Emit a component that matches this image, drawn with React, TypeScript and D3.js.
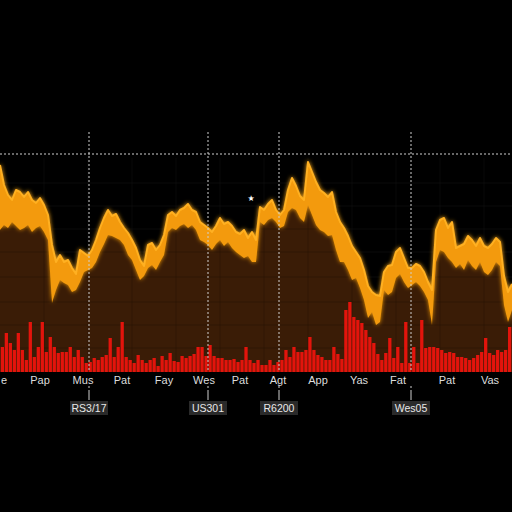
import React from "react";
import * as d3 from "d3";

// price band: upper edge (high) and lower edge (low), one point every step
const highValues = [
  207,187,177,172,182,180,175,180,172,169,
  174,167,157,127,110,117,110,112,104,98,
  122,119,116,122,132,144,154,162,156,158,
  150,144,139,132,124,112,106,127,129,122,
  127,137,157,160,156,162,164,168,162,160,
  150,147,144,140,146,154,148,150,146,140,
  138,142,134,140,132,165,162,168,172,162,
  157,162,182,194,186,176,172,210,200,190,
  182,179,175,180,160,150,144,136,126,120,
  114,102,86,80,77,76,100,106,107,120,
  124,114,104,104,108,106,100,90,82,142,
  152,154,144,150,124,126,128,136,132,126,
  134,126,124,128,134,130,96,80,88,
];
const lowValues = [
  142,147,144,150,146,142,144,147,140,144,
  146,140,132,69,82,92,89,87,80,82,
  90,100,102,104,110,120,128,137,136,134,
  132,127,117,112,102,92,96,104,107,102,
  110,117,140,144,142,146,148,144,147,142,
  132,130,127,122,128,132,126,130,124,120,
  117,114,116,110,110,150,147,152,154,150,
  144,146,160,164,162,154,150,167,157,147,
  142,140,136,137,122,110,110,102,92,94,
  84,72,54,60,47,50,82,77,80,94,
  98,90,84,87,90,86,80,72,47,110,
  122,120,114,110,104,108,102,112,106,102,
  110,100,97,102,110,106,67,50,62,
];
// volume bars
const volumeValues = [
  25,39,29,22,39,22,12,50,15,25,
  50,20,35,25,19,20,20,25,15,22,
  15,9,10,14,12,15,17,34,15,25,
  50,15,12,9,17,12,9,12,14,6,
  16,12,19,11,10,16,14,16,18,25,
  25,16,27,16,14,14,12,12,13,10,
  12,25,12,9,12,7,7,12,7,10,
  12,22,15,25,20,20,22,35,22,17,
  15,12,12,25,18,13,62,70,55,52,
  49,42,35,29,18,12,19,34,14,25,
  9,50,9,25,9,52,24,25,25,24,
  22,19,20,19,15,15,14,12,14,17,
  20,34,19,17,22,20,22,45,
];
// axis tick labels and their positions (in data index)
const tickLabels = ["e","Pap","Mus","Pat","Fay","Wes","Pat","Agt","App","Yas","Fat","Pat","Vas"];
const tickIndex = [1,10,20.75,30.5,41,51,60,69.5,79.5,89.75,99.5,111.75,122.5];
// event markers
const markerLabels = ["RS3/17","US301","R6200","Wes05"];
const markerIndex = [22.25,52,69.75,102.75];
const gridYValues = [24,47,70,95,120,143,166,189];
const gridXIndex = [11,22,33,44,55,66,77,88,99,110,121];

export default function App() {
  const W = 512, H = 512;
  const base = 372;
  const n = highValues.length;
  const x = d3.scaleLinear().domain([0, n - 1]).range([0, W]);
  const y = d3.scaleLinear().domain([0, 220]).range([base, 152]);
  const xb = d3.scaleBand<number>().domain(d3.range(volumeValues.length)).range([0, W]).padding(0.18);

  const fillArea = d3.area<number>().x((_, i) => x(i)).y0(base).y1((d) => y(d))(highValues) || "";
  const bandArea = d3.area<number>().x((_, i) => x(i)).y0((_, i) => y(lowValues[i])).y1((d) => y(d))(highValues) || "";
  const highLine = d3.line<number>().x((_, i) => x(i)).y((d) => y(d))(highValues) || "";

  return (
    <svg width={W} height={H} style={{ position: "absolute", left: 0, top: 0, background: "#000" }}>
      <defs>
        <filter id="glow" x="-10%" y="-10%" width="120%" height="120%">
          <feGaussianBlur stdDeviation="2" result="b" />
          <feMerge>
            <feMergeNode in="b" />
            <feMergeNode in="SourceGraphic" />
          </feMerge>
        </filter>
      </defs>
      <rect width={W} height={H} fill="#000" />
      {gridYValues.map((v, i) => (
        <line key={"gy" + i} x1={0} x2={W} y1={y(v)} y2={y(v)} stroke="#ffffff" strokeOpacity={0.05} />
      ))}
      {gridXIndex.map((v, i) => (
        <line key={"gx" + i} x1={x(v)} x2={x(v)} y1={158} y2={base} stroke="#ffffff" strokeOpacity={0.04} />
      ))}
      <path d={fillArea} fill="#3a1c06" />
      {gridYValues.map((v, i) => (
        <line key={"gy2" + i} x1={0} x2={W} y1={y(v)} y2={y(v)} stroke="#000" strokeOpacity={0.18} />
      ))}
      {gridXIndex.map((v, i) => (
        <line key={"gx2" + i} x1={x(v)} x2={x(v)} y1={158} y2={base} stroke="#000" strokeOpacity={0.15} />
      ))}
      <g filter="url(#glow)">
        <path d={bandArea} fill="#f39a0c" />
        <path d={highLine} fill="none" stroke="#ffb020" strokeWidth={2} strokeLinejoin="round" />
      </g>
      {volumeValues.map((v, i) => (
        <rect key={"b" + i} x={xb(i)} width={xb.bandwidth()} y={y(v)} height={base - y(v)} fill="#e3140c" />
      ))}
      <line x1={0} x2={W} y1={154} y2={154} stroke="#cfcfcf" strokeWidth={1} strokeDasharray="2,2" />
      {markerIndex.map((m, i) => (
        <line key={"m" + i} x1={x(m)} x2={x(m)} y1={132} y2={400} stroke="#cfcfcf" strokeWidth={1} strokeDasharray="2,2" />
      ))}
      <rect x={0} y={base} width={W} height={20} fill="#000" />
      {markerIndex.map((m, i) => (
        <line key={"m2" + i} x1={x(m)} x2={x(m)} y1={386} y2={401} stroke="#cfcfcf" strokeWidth={1} strokeDasharray="2,2" />
      ))}
      {tickLabels.map((t, i) => (
        <text key={"t" + i} x={x(tickIndex[i])} y={384} fill="#dddddd" fontSize={11} fontFamily="Liberation Sans, Arial, sans-serif" textAnchor="middle">{t}</text>
      ))}
      {markerLabels.map((t, i) => (
        <g key={"ml" + i}>
          <rect x={x(markerIndex[i]) - 19} y={401} width={38} height={14} fill="#2a2a2a" />
          <text x={x(markerIndex[i])} y={412} fill="#e8e8e8" fontSize={10.5} fontFamily="Liberation Sans, Arial, sans-serif" textAnchor="middle">{t}</text>
        </g>
      ))}
      <text x={251} y={201} fill="#ffffff" fontSize={8} fontFamily="DejaVu Sans, sans-serif" textAnchor="middle">★</text>
    </svg>
  );
}
